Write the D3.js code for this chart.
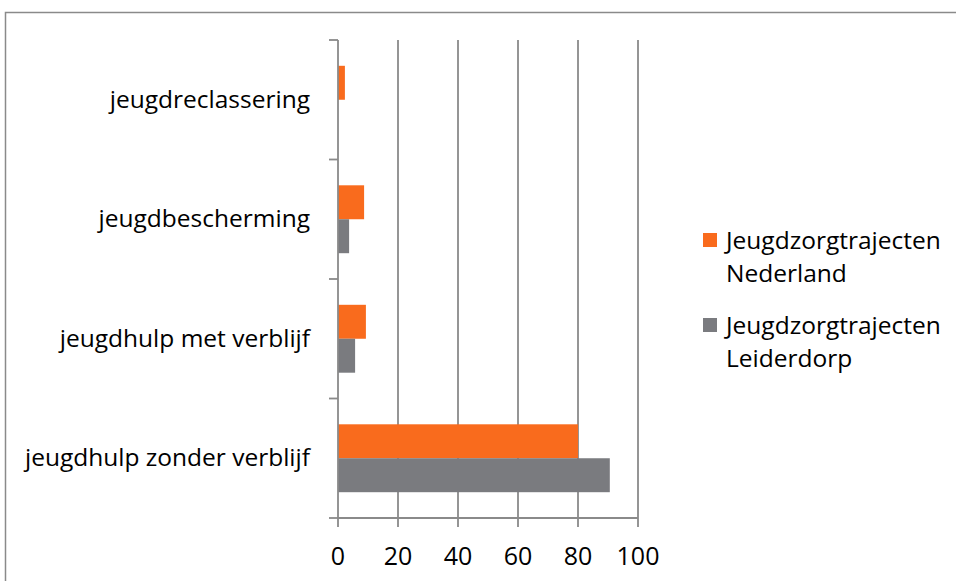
<!DOCTYPE html>
<html><head><meta charset="utf-8">
<script src="https://cdn.jsdelivr.net/npm/d3@7"></script>
<style>body{margin:0;background:#fff;}svg{display:block;font-family:"Open Sans",sans-serif;}</style>
</head><body>
<svg id="c" width="956" height="581"></svg>
<script>
const categories = ["jeugdreclassering","jeugdbescherming","jeugdhulp met verblijf","jeugdhulp zonder verblijf"];
const seriesNames = ["Jeugdzorgtrajecten Nederland","Jeugdzorgtrajecten Leiderdorp"];
const nederland = [2.3, 8.7, 9.3, 80];
const leiderdorp = [0, 3.7, 5.7, 90.6];
const xTicks = [0,20,40,60,80,100];
const colors = ["#F96B1D","#7A7B7F"];

const svg = d3.select("#c");
svg.append("rect").attr("x",5.5).attr("y",12.5).attr("width",1000).attr("height",700)
  .attr("fill","none").attr("stroke","#8a8a8a").attr("stroke-width",1.5);

const x = d3.scaleLinear().domain([0,100]).range([338,638]);
const y = d3.scaleBand().domain(categories).range([40,518]);
const inner = d3.scaleBand().domain(seriesNames).range([0,y.bandwidth()]).paddingInner(0).paddingOuter(0.76);

// gridlines
svg.append("g").selectAll("line").data(xTicks.slice(1)).join("line")
  .attr("x1",d=>x(d)).attr("x2",d=>x(d)).attr("y1",40).attr("y2",527)
  .attr("stroke","#8a8a8a").attr("stroke-width",1.8);

// bars
const data = [nederland, leiderdorp];
data.forEach((vals,si)=>{
  svg.append("g").selectAll("rect").data(vals).join("rect")
    .attr("x",x(0)).attr("y",(d,i)=>y(categories[i])+inner(seriesNames[si]))
    .attr("width",d=>x(d)-x(0)).attr("height",inner.bandwidth())
    .attr("fill",colors[si]);
});

// left axis
const ax = svg.append("g");
ax.append("line").attr("x1",338).attr("x2",338).attr("y1",40).attr("y2",527).attr("stroke","#8a8a8a").attr("stroke-width",1.8);
const yTicks = categories.map(c=>y(c)).concat([518]);
ax.selectAll("line.t").data(yTicks).join("line").attr("class","t")
  .attr("x1",329).attr("x2",338).attr("y1",d=>d).attr("y2",d=>d).attr("stroke","#8a8a8a").attr("stroke-width",1.8);
ax.append("line").attr("x1",338).attr("x2",638).attr("y1",518).attr("y2",518).attr("stroke","#8a8a8a").attr("stroke-width",1.8);

// category labels
svg.append("g").selectAll("text").data(categories).join("text")
  .attr("x",310).attr("y",d=>y(d)+y.bandwidth()/2+8).attr("text-anchor","end")
  .attr("font-size",24.5).attr("fill","#000").text(d=>d);

// x tick labels
svg.append("g").selectAll("text").data(xTicks).join("text")
  .attr("x",d=>x(d)).attr("y",565).attr("text-anchor","middle")
  .attr("font-size",25).attr("fill","#000").text(d=>d);

// legend
const lg = svg.append("g");
const legendLines = [["Jeugdzorgtrajecten","Nederland"],["Jeugdzorgtrajecten","Leiderdorp"]];
legendLines.forEach((lines,i)=>{
  const top = 233 + i*85;
  lg.append("rect").attr("x",703).attr("y",top).attr("width",14).attr("height",14).attr("fill",colors[i]);
  lines.forEach((t,j)=>{
    lg.append("text").attr("x",726).attr("y",top+16+j*33).attr("font-size",24.5).attr("fill","#000").text(t);
  });
});
</script>
</body></html>
